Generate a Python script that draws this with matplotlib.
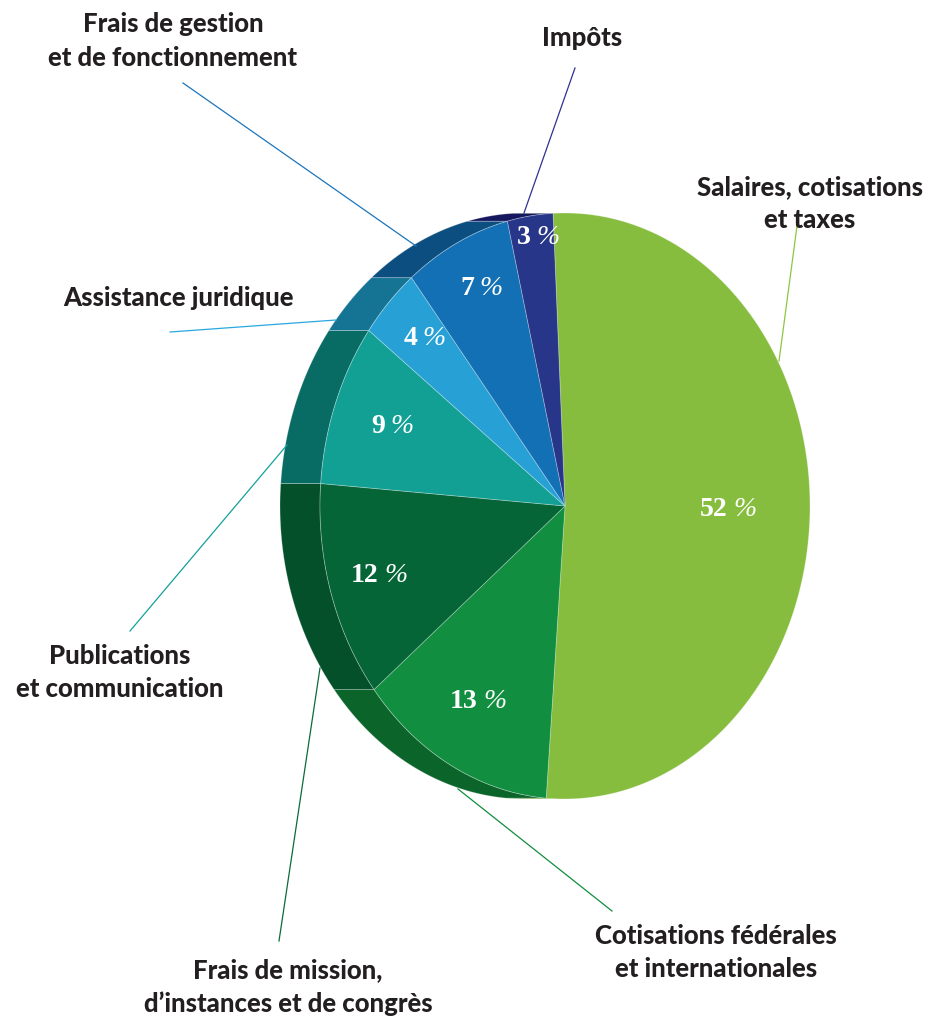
import numpy as np
import matplotlib.pyplot as plt
from matplotlib.patches import Polygon

# data
categories = ["Salaires, cotisations\net taxes",
              "Cotisations fédérales\net internationales",
              "Frais de mission,\nd’instances et de congrès",
              "Publications\net communication",
              "Assistance juridique",
              "Frais de gestion\net de fonctionnement",
              "Impôts"]
shares = [52, 13, 12, 9, 4, 7, 3]

top_colors = ["#86bd3e", "#118e3f", "#066537", "#12a095", "#27a1d5", "#1370b4", "#283689"]
side_colors = ["#6f9e33", "#0b6429", "#03502a", "#086c64", "#157394", "#0c4e7f", "#15185e"]
line_colors = ["#8dc63f", "#118e3f", "#0a6b3a", "#14a098", "#29a8e0", "#1c75bc", "#2e3192"]

# layout (pixels)
cx, cy, rx, ry = 565, 507, 245, 293
depth = 40
start = 92.8
pct_r = [0.67, 0.75, 0.79, 0.78, 0.83, 0.83, 0.93]
label_xy = [(810, 204), (716, 953), (288, 987), (120, 673), (178, 298), (173, 41), (582, 38)]
leader = [((797, 227), (779, 362)),
          ((612, 912), (458, 790)),
          ((279, 942), (320, 669)),
          ((130, 632), (287, 446)),
          ((170, 333), (336, 321)),
          ((183, 84), (416, 247)),
          ((575, 69), (524, 214))]


def rim(t):
    t = np.radians(t)
    return np.column_stack([cx + rx * np.cos(t), cy - ry * np.sin(t)])


fig = plt.figure(figsize=(9.32, 10.2), dpi=100)
ax = fig.add_axes([0, 0, 1, 1])
ax.set_xlim(0, 932)
ax.set_ylim(1020, 0)
ax.axis("off")

bounds = start - np.concatenate([[0], np.cumsum(shares)]) * 3.6

# side wall (only the left half of the rim shows)
for i in range(len(shares)):
    hi, lo = bounds[i], bounds[i + 1]
    for a, b in [(-270, -90), (90, 270)]:
        s, e = max(lo, a), min(hi, b)
        if e - s <= 0:
            continue
        pts = rim(np.linspace(s, e, 60))
        back = pts[::-1] - [depth, 0]
        ax.add_patch(Polygon(np.vstack([pts, back]), closed=True,
                             facecolor=side_colors[i], edgecolor=(1, 1, 1, 0.3),
                             linewidth=0.6, zorder=1))

# top face
for i in range(len(shares)):
    hi, lo = bounds[i], bounds[i + 1]
    pts = rim(np.linspace(hi, lo, 120))
    poly = np.vstack([[cx, cy], pts])
    ax.add_patch(Polygon(poly, closed=True, facecolor=top_colors[i],
                         edgecolor=(1, 1, 1, 0.3), linewidth=0.6, zorder=2))

    # value label: bold digits, light italic percent sign
    mid = np.radians((hi + lo) / 2)
    px = cx + pct_r[i] * rx * np.cos(mid)
    py = cy - pct_r[i] * ry * np.sin(mid)
    ax.annotate(str(shares[i]), (px, py), xytext=(-1, 0), textcoords="offset points",
                color="white", fontsize=20, family="Liberation Serif", fontweight="bold",
                ha="right", va="center", zorder=4)
    ax.annotate("%", (px, py), xytext=(3, 0), textcoords="offset points",
                color="white", fontsize=20, family="Liberation Serif", style="italic",
                ha="left", va="center", zorder=4)

    (x0, y0), (x1, y1) = leader[i]
    ax.plot([x0, x1], [y0, y1], color=line_colors[i], linewidth=0.9, zorder=3)

    lx, ly = label_xy[i]
    ax.text(lx, ly, categories[i], fontsize=18.5, family="Lato", fontweight="black",
            color="#231f20", ha="center", va="center", linespacing=1.45, zorder=4)

fig.savefig("out.png", dpi=100)
